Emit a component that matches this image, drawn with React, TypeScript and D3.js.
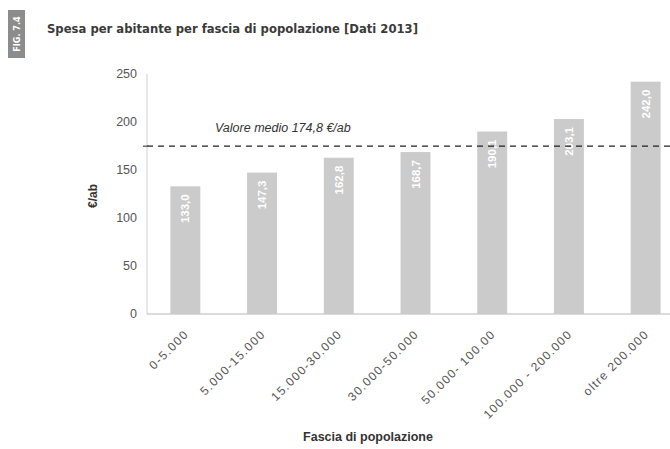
import React from "react";
import * as d3 from "d3";

const categories = ["0-5.000", "5.000-15.000", "15.000-30.000", "30.000-50.000", "50.000- 100.00", "100.000 - 200.000", "oltre 200.000"];
const values = [133.0, 147.3, 162.8, 168.7, 190.1, 203.1, 242.0];
const valueLabels = ["133,0", "147,3", "162,8", "168,7", "190,1", "203,1", "242,0"];
const yTicks = [0, 50, 100, 150, 200, 250];
const meanValue = 174.8;
const meanLabel = "Valore medio 174,8 €/ab";
const title = "Spesa per abitante per fascia di popolazione [Dati 2013]";
const tagText = "FIG. 7.4";
const yTitle = "€/ab";
const xTitle = "Fascia di popolazione";

export default function App() {
  const W = 670, H = 449;
  const x0 = 147, x1 = 684, yTop = 74, yBottom = 314;
  const x = d3.scaleBand<string>().domain(categories).range([x0, x1]).paddingInner(0.61).paddingOuter(0.305);
  const y = d3.scaleLinear().domain([0, 250]).range([yBottom, yTop]);
  const font = "'Liberation Sans', Arial, sans-serif";
  return (
    <div style={{ position: "absolute", left: 0, top: 0, width: W, height: H, background: "#fff" }}>
      <svg width={W} height={H} style={{ display: "block" }}>
        <rect x={0} y={0} width={W} height={H} fill="#fff" />
        <rect x={8} y={10} width={17} height={48} fill="#8c8c8c" />
        <text transform="translate(20,34) rotate(-90)" textAnchor="middle" fill="#fff" fontSize={9} fontWeight="bold" fontFamily="'DejaVu Sans Condensed', sans-serif">{tagText}</text>
        <text x={47} y={33} fill="#3a3a3a" fontSize={11.5} fontWeight="bold" fontFamily="'DejaVu Sans Condensed', 'DejaVu Sans', sans-serif" textLength={371} lengthAdjust="spacingAndGlyphs">{title}</text>
        <line x1={x0} x2={x0} y1={yTop} y2={yBottom} stroke="#cfcfcf" strokeWidth={1} />
        <line x1={x0} x2={W} y1={yBottom} y2={yBottom} stroke="#cfcfcf" strokeWidth={1.5} />
        {yTicks.map((t) => (
          <text key={t} x={137} y={y(t)} dy="0.35em" textAnchor="end" fill="#555" fontSize={12.5} fontFamily={font}>{t}</text>
        ))}
        <text transform={`translate(97,${(yTop + yBottom) / 2 + 2}) rotate(-90)`} textAnchor="middle" fill="#333" fontSize={12} fontWeight="bold" fontFamily={font}>{yTitle}</text>
        {categories.map((c, i) => {
          const bx = x(c)!;
          const bw = x.bandwidth();
          const top = y(values[i]);
          return (
            <g key={c}>
              <rect x={bx} y={top} width={bw} height={yBottom - top} fill="#cbcbcb" />
              <text transform={`translate(${bx + bw / 2},${top + 8}) rotate(-90)`} textAnchor="end" dy="0.35em" fill="#fff" fontSize={11.5} fontWeight="bold" fontFamily={font}>{valueLabels[i]}</text>
              <text transform={`translate(${bx + bw / 2 + 1},${yBottom + 18}) rotate(-45)`} textAnchor="end" dy="0.35em" fill="#555" fontSize={12} letterSpacing={1.3} fontFamily={font}>{c}</text>
            </g>
          );
        })}
        <line x1={x0} x2={W} y1={y(meanValue)} y2={y(meanValue)} stroke="#222" strokeWidth={1.3} strokeDasharray="6,5" />
        <line x1={x0 - 4} x2={x0 + 2} y1={y(meanValue)} y2={y(meanValue)} stroke="#555" strokeWidth={1.3} />
        <text x={215} y={y(meanValue) - 14} fill="#333" fontSize={12.5} fontStyle="italic" fontFamily={font}>{meanLabel}</text>
        <text x={368} y={441} textAnchor="middle" fill="#333" fontSize={12.5} fontWeight="bold" fontFamily={font}>{xTitle}</text>
      </svg>
    </div>
  );
}
